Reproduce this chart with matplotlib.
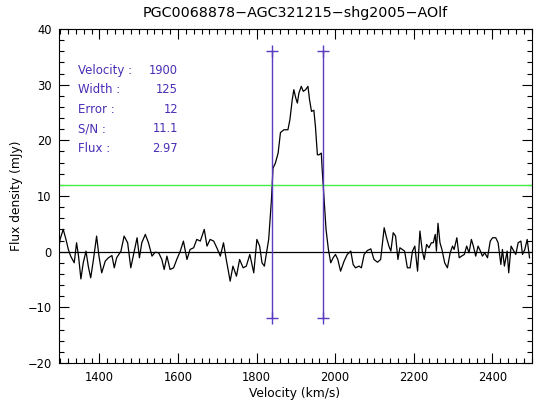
import matplotlib

matplotlib.use("Agg")
import matplotlib.pyplot as plt
import matplotlib.ticker as ticker

# spectrum: velocity (km/s) and flux density (mJy)
velocity = [
    1296, 1300, 1308, 1315, 1321, 1327, 1336, 1342, 1347, 1353, 1359, 1366, 1372,
    1378, 1385, 1393, 1399, 1406, 1415, 1423, 1432, 1438, 1444, 1455, 1463, 1472,
    1480, 1487, 1496, 1502, 1508, 1517, 1525, 1534, 1542, 1551, 1559, 1565, 1572,
    1580, 1589, 1597, 1606, 1614, 1623, 1631, 1640, 1648, 1657, 1667, 1674, 1682,
    1691, 1699, 1708, 1716, 1723, 1733, 1740, 1749, 1757, 1766, 1774, 1783, 1793,
    1801, 1808, 1814, 1820, 1827, 1831, 1835, 1838,
    1842, 1848, 1855, 1861, 1870, 1880, 1885, 1891, 1895, 1900, 1904, 1908, 1914,
    1919, 1925, 1931, 1935, 1940, 1946, 1950, 1955, 1959, 1965, 1967,
    1970, 1973, 1977, 1983, 1989, 1995, 2001, 2007, 2014, 2023, 2031, 2040, 2046,
    2052, 2061, 2067, 2074, 2082, 2091, 2099, 2108, 2116, 2125, 2131, 2137, 2142,
    2148, 2154, 2160, 2165, 2171, 2177, 2184, 2191, 2197, 2203, 2210, 2216, 2222,
    2227, 2233, 2239, 2245, 2250, 2255, 2258, 2262, 2267, 2272, 2279, 2286, 2293,
    2299, 2303, 2310, 2316, 2322, 2329, 2335, 2341, 2347, 2352, 2358, 2364, 2370,
    2375, 2381, 2388, 2395, 2401, 2409, 2415, 2422, 2426, 2431, 2438, 2442, 2448,
    2455, 2460, 2466, 2473, 2477, 2483, 2489, 2495,
]
flux = [
    0.1, 2.2, 4.0, 2.2, 0.4, -0.8, -2.0, 1.6, -0.8, -4.9, -2.0, 0.1, -2.7,
    -4.7, -1.4, 2.8, -0.8, -3.8, -1.7, -1.1, -0.7, -2.9, -1.1, 0.1, 2.8, 1.6,
    -2.9, -0.5, 2.5, -1.1, 1.6, 3.1, 1.6, -0.8, -0.1, -0.2, -1.4, -3.2, -0.8,
    -3.2, -2.9, -1.4, 0.1, 1.9, -1.4, 0.4, 0.7, 2.2, 1.9, 4.0, 1.0, 2.2,
    1.9, 0.7, -0.8, 1.6, -1.4, -5.3, -2.6, -4.4, -1.4, -2.9, -2.6, -0.5, -3.8,
    2.2, 1.0, -2.0, -2.6, 0.4, 2.2, 6.3, 9.3,
    15.0, 15.9, 17.7, 21.4, 21.9, 21.9, 23.7, 27.3, 29.1, 27.6, 26.7, 28.5, 29.7,
    28.8, 29.1, 29.7, 27.3, 25.2, 25.4, 22.5, 17.4, 17.4, 17.7, 15.0,
    11.7, 8.7, 4.0, 0.4, -2.0, -1.1, -0.5, -1.4, -3.5, -1.7, -0.5, 0.1, -2.3,
    -2.9, -2.6, -2.9, -0.5, 0.2, 0.5, -1.4, -1.9, -1.4, 4.3, 2.5, 1.0, 0.1,
    3.4, 2.8, -1.4, 0.7, 0.4, 0.1, -2.9, -2.9, 0.1, 1.0, -3.5, 3.7, 0.1,
    -1.4, 1.3, 0.7, 1.6, 1.6, 3.1, 0.1, 5.1, 1.6, 0.4, -2.0, -2.9, -0.2,
    1.0, 0.4, 2.5, -1.1, -0.8, -0.5, 1.0, -0.2, 2.2, 1.0, -0.8, 1.0, 0.1,
    -0.8, -0.2, -1.1, 1.9, 2.5, 2.5, 1.6, -2.3, 0.4, -2.6, 0.1, -3.8, 1.0,
    0.1, -0.5, 1.6, 1.9, -0.5, 0.4, 2.2, -1.1,
]

# fitted line edges and the marker extent
edge_vel = [1840, 1968]
edge_flux = [-12, 36]
threshold = 12

param_names = ["Velocity :", "Width :", "Error :", "S/N :", "Flux :"]
param_values = ["1900", "125", "12", "11.1", "2.97"]

title = "PGC0068878\u2212AGC321215\u2212shg2005\u2212AOlf"

PURPLE = "#5a3cc0"
TEXT_PURPLE = "#4b2db5"
GREEN = "#44ee44"

plt.rcParams["font.family"] = ["DejaVu Sans"]

fig = plt.figure(figsize=(5.35, 4.04), dpi=100, facecolor="white")
ax = fig.add_axes([58.5 / 535, 41 / 404, 473 / 535, 334 / 404])

ax.plot(velocity, flux, color="black", linewidth=0.9)
ax.axhline(0, color="black", linewidth=0.9)
ax.axhline(threshold, color=GREEN, linewidth=1.0)
for v in edge_vel:
    ax.plot([v, v], edge_flux, color=PURPLE, linewidth=1.0, marker="+",
            markersize=9, markeredgewidth=1.0)

ax.set_xlim(1296, 2500)
ax.set_ylim(-20, 40)
ax.xaxis.set_major_locator(ticker.MultipleLocator(200))
ax.xaxis.set_minor_locator(ticker.MultipleLocator(20))
ax.yaxis.set_major_locator(ticker.MultipleLocator(10))
ax.yaxis.set_minor_locator(ticker.MultipleLocator(2))
ax.tick_params(which="both", direction="in", top=True, right=True,
               labelsize=8.3, width=0.8)
ax.tick_params(axis="x", pad=6)
ax.tick_params(axis="y", pad=5)
ax.tick_params(which="major", length=7)
ax.tick_params(which="minor", length=3.5)
for spine in ax.spines.values():
    spine.set_linewidth(0.8)

ax.set_xlabel("Velocity (km/s)", fontsize=8.8, labelpad=2)
ax.set_ylabel("Flux density (mJy)", fontsize=8.8, labelpad=3)
fig.text(295 / 535, 1 - 13 / 404, title, ha="center", va="center", fontsize=10.3)

rows_y = [0.877, 0.819, 0.760, 0.701, 0.641]
for name, val, y in zip(param_names, param_values, rows_y):
    ax.text(0.041, y, name, transform=ax.transAxes, fontsize=8.5,
            color=TEXT_PURPLE, va="center", ha="left")
    ax.text(0.253, y, val, transform=ax.transAxes, fontsize=8.3,
            color=TEXT_PURPLE, va="center", ha="right")

fig.savefig("out.png", dpi=100, facecolor="white")
